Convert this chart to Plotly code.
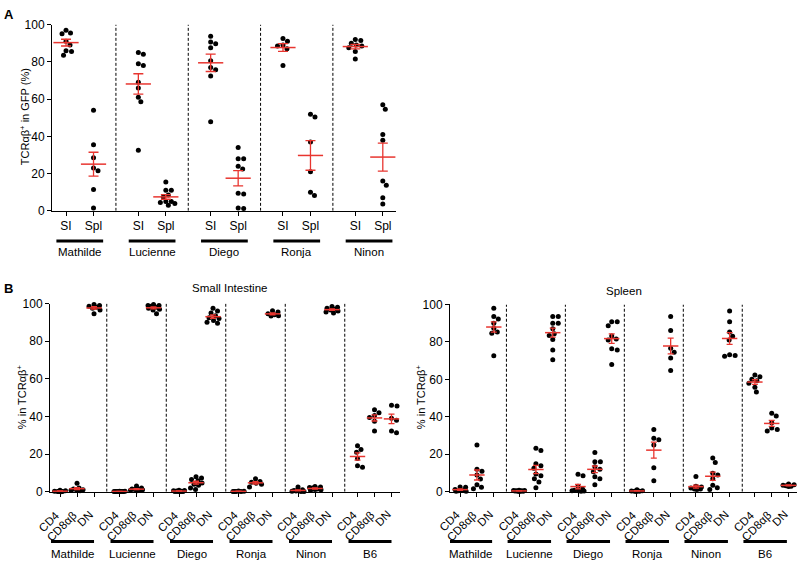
import math
import numpy as np
import plotly.graph_objects as go

# ---------------- data ----------------
mice = ["Mathilde", "Lucienne", "Diego", "Ronja", "Ninon"]
mice_b = ["Mathilde", "Lucienne", "Diego", "Ronja", "Ninon", "B6"]
a_ticks = ["SI", "Spl"]
b_ticks = ["CD4", "CD8αβ", "DN"]

# Panel A: TCRab+ in GFP (%)
A_SI = [
    [95.5, 95, 97, 91, 89, 86, 83.5, 85.5],
    [84, 85, 79, 78, 69, 66, 61, 58.5, 32.5],
    [93.7, 90.7, 89.7, 87.6, 80.6, 77, 75.7, 72.4, 47.8],
    [92.5, 91, 89, 88.5, 87, 78],
    [92, 91.5, 90, 89, 88.5, 87.5, 85.5, 81.5],
]
A_SPL = [
    [54, 35.5, 28.5, 23, 21.5, 11.5, 1.5],
    [15.5, 11, 11, 8.5, 7.5, 5, 4.5, 4, 3, 5],
    [34, 28, 28, 24, 22.5, 9.5, 9, 1.5, 1.2],
    [51.8, 50.4, 37, 21, 10, 8.2],
    [57, 54.5, 41, 37.9, 16, 13.8, 7, 3.7],
]

# Panel B, small intestine: % in TCRab+
SI_CD4 = [
    [0, 0.2, 0.5, 0.8, 0.1, 0.3, 0.2],
    [0.1, 0.2, 0.3, 0.1, 0.2, 0.1, 0.3, 0.2, 0.1],
    [0.5, 0.8, 0.2, 0.1, 0.3, 0.2, 0.6, 0.4, 0.1],
    [0.1, 0.3, 0.2, 0.2, 0.1, 0.4],
    [0.5, 1, 2.5, 0.3, 0.1, 0.6, 0.4, 0.2],
    [24.5, 22.5, 21, 17.6, 13.8, 13],
]
SI_CD8 = [
    [4.5, 2, 1.5, 1, 1, 0.5, 0.8],
    [3, 2, 1.5, 1.2, 1, 0.8, 1.5, 1, 0.5],
    [8, 7.3, 6.5, 5.9, 4.7, 4, 3.5, 2, 1.2],
    [6.9, 5.5, 5, 4.5, 4, 2.5],
    [2.8, 2.5, 2, 1.5, 1.2, 1, 0.6, 2.3],
    [43.5, 42, 40.5, 39.5, 37.5, 32.3],
]
SI_DN = [
    [99.5, 99, 98.5, 98, 97.5, 96.5, 94.5],
    [99.5, 99, 99, 98.5, 98, 97.5, 97, 96.5, 94.5],
    [97.5, 96, 95, 93.5, 92.5, 92, 91, 90, 89.5],
    [96.2, 95.5, 94.5, 94, 93.5, 93.3],
    [98.4, 98, 97.5, 97, 96.5, 96, 95.5, 95],
    [46, 45.5, 39, 38, 32.3, 31.4],
]

# Panel B, spleen: % in TCRab+
SP_CD4 = [
    [2.4, 2.5, 1.2, 0.5, 0.3, 0.2, 0.8],
    [0.5, 0.8, 0.6, 0.3, 0.2, 0.5, 0.4, 0.3, 0.2, 0.6],
    [9.4, 8.5, 2.9, 1.5, 0.8, 0.5, 0.3, 0.5, 0.4],
    [0.5, 1, 0.3, 0.2, 0.4, 0.1],
    [8.1, 3, 2.5, 2, 1.5, 1.2, 1.5, 2],
    [62.4, 61.4, 60.1, 59.3, 57.9, 55.8, 53.2],
]
SP_CD8 = [
    [25, 12, 11, 9, 6.8, 3.8, 2.4, 1.6],
    [23.2, 22, 15, 13.9, 12.5, 9.5, 8.5, 6.9, 5.2, 2.1],
    [21, 16, 16, 13.3, 12, 10.7, 8, 6.9, 3.8],
    [33.3, 28.6, 27.7, 25, 12.8, 5.9],
    [18, 15.6, 9.9, 9, 6.9, 3.5, 2.1, 1.2],
    [41.9, 40.5, 36.8, 34, 33.3, 32.4],
]
SP_DN = [
    [98, 93.6, 92.2, 90, 87.3, 85.3, 84.7, 72.6],
    [93.6, 93.6, 90, 90, 87, 84.4, 83.5, 81.3, 75.7, 70.5],
    [90.8, 90.8, 88.7, 83.2, 81.5, 81, 76.3, 75.7, 68],
    [93.6, 86.1, 76.6, 74.5, 71.4, 64.8],
    [96.5, 90.8, 85.3, 83, 81, 73.1, 72.8, 72.3],
    [4.1, 3.5, 3, 2.8, 3.2, 3.8],
]

# ---------------- styling ----------------
W, H = 800, 568
FONT = "Liberation Sans, Arial, Helvetica, sans-serif"
RED = "#e8352f"
A_GAP, B_GAP = 2.63, 3.5


def px_x(p):
    return p / W


def px_y(p):
    return 1 - p / H


def swarm(vals, ppx, ppy, maxw, d=5.2):
    """capped beeswarm offsets (data units); overlap allowed when crowded"""
    order = sorted(range(len(vals)), key=lambda i: -vals[i])
    grid = [k * 0.5 for k in range(-int(maxw * 2), int(maxw * 2) + 1)]
    placed = []
    offs = [0.0] * len(vals)
    for i in order:
        y = vals[i] * ppy
        scores = []
        for c in grid:
            md = min([math.hypot(c - xp, y - yp) for xp, yp in placed] or [1e9])
            scores.append((c, md))
        ok = [c for c, md in scores if md >= d]
        if ok:
            best = min(ok, key=lambda c: (abs(c), -c))
        else:
            best = max(scores, key=lambda t: (t[1], -abs(t[0])))[0]
        placed.append((best, y))
        offs[i] = best / ppx
    return offs


fig = go.Figure()


def add_panel(xa, ya, series, ppx, ppy, maxw, msize, capw):
    dx, dy, mx, my, se = [], [], [], [], []
    for pos, vals in series:
        offs = swarm(vals, ppx, ppy, maxw)
        dx += [pos + o for o in offs]
        dy += list(vals)
        arr = np.array(vals, dtype=float)
        mx.append(pos)
        my.append(arr.mean())
        se.append(arr.std(ddof=1) / math.sqrt(len(arr)))
    fig.add_trace(go.Scatter(x=dx, y=dy, mode="markers", xaxis=xa, yaxis=ya,
                             marker=dict(color="black", size=5, line=dict(width=0)),
                             cliponaxis=False, hoverinfo="skip", showlegend=False))
    fig.add_trace(go.Scatter(x=mx, y=my, mode="markers", xaxis=xa, yaxis=ya,
                             marker=dict(symbol="line-ew", size=msize,
                                         line=dict(color=RED, width=1.5)),
                             error_y=dict(type="data", array=se, visible=True,
                                          color=RED, thickness=1.3, width=capw),
                             cliponaxis=False, hoverinfo="skip", showlegend=False))


# Panel A
a_series, a_tickvals, a_ticktext = [], [], []
for g in range(len(mice)):
    base = g * A_GAP
    a_series.append((base, A_SI[g]))
    a_series.append((base + 1, A_SPL[g]))
    a_tickvals += [base, base + 1]
    a_ticktext += a_ticks
add_panel("x", "y", a_series, 27.5, 1.91, 9, 18, 5)

# Panel B
b_tickvals, b_ticktext = [], []
si_series, sp_series = [], []
for g in range(len(mice_b)):
    base = g * B_GAP
    for k, (s, p) in enumerate(zip([SI_CD4, SI_CD8, SI_DN], [SP_CD4, SP_CD8, SP_DN])):
        si_series.append((base + k, s[g]))
        sp_series.append((base + k, p[g]))
        b_tickvals.append(base + k)
        b_ticktext.append(b_ticks[k])
add_panel("x2", "y2", si_series, 17.0, 1.93, 6, 11, 3)
add_panel("x3", "y3", sp_series, 16.8, 1.93, 6, 11, 3)

# separators, bars, group labels
shapes, annots = [], []
dash = dict(color="black", width=1, dash="3px,2px")
for g in range(len(mice) - 1):
    xs = g * A_GAP + 1 + (A_GAP - 1) / 2
    shapes.append(dict(type="line", xref="x", yref="y", x0=xs, x1=xs, y0=0, y1=100, line=dash))
for g in range(len(mice)):
    base = g * A_GAP
    shapes.append(dict(type="line", xref="x", yref="paper", x0=base - 0.35, x1=base + 1.35,
                       y0=px_y(240), y1=px_y(240), line=dict(color="black", width=3)))
    annots.append(dict(xref="x", yref="paper", x=base + 0.5, y=px_y(251), text=mice[g],
                       showarrow=False, yanchor="middle", font=dict(size=11.5)))

for xa, ya, lo, hi in [("x2", "y2", -0.53, 2.0), ("x3", "y3", -0.68, 1.9)]:
    for g in range(len(mice_b) - 1):
        xs = g * B_GAP + 2 + (B_GAP - 2) / 2
        shapes.append(dict(type="line", xref=xa, yref=ya, x0=xs, x1=xs, y0=0, y1=100, line=dash))
    for g in range(len(mice_b)):
        base = g * B_GAP
        shapes.append(dict(type="line", xref=xa, yref="paper", x0=base + lo, x1=base + hi,
                           y0=px_y(548), y1=px_y(548), line=dict(color="black", width=3)))
        annots.append(dict(xref=xa, yref="paper", x=base + (lo + hi) / 2, y=px_y(561),
                           text=mice_b[g], showarrow=False, yanchor="middle",
                           font=dict(size=11.5)))
    # angled category labels, ending at their tick
    for tv, tt in zip(b_tickvals, b_ticktext):
        annots.append(dict(xref=xa, yref="paper", x=tv, xshift=5, y=px_y(511), text=tt,
                           textangle=-45, showarrow=False, xanchor="right", yanchor="top",
                           font=dict(size=11.5)))

# titles and panel letters
annots += [
    dict(xref="paper", yref="paper", x=px_x(2), y=px_y(8), text="<b>A</b>", showarrow=False,
         xanchor="left", yanchor="middle", font=dict(size=13)),
    dict(xref="paper", yref="paper", x=px_x(2), y=px_y(289), text="<b>B</b>", showarrow=False,
         xanchor="left", yanchor="middle", font=dict(size=13)),
    dict(xref="paper", yref="paper", x=px_x(25), y=px_y(113), text="TCRαβ<sup>+</sup> in GFP (%)",
         showarrow=False, textangle=-90, xanchor="center", yanchor="middle", font=dict(size=11)),
    dict(xref="paper", yref="paper", x=px_x(22), y=px_y(400), text="% in TCRαβ<sup>+</sup>",
         showarrow=False, textangle=-90, xanchor="center", yanchor="middle", font=dict(size=11)),
    dict(xref="paper", yref="paper", x=px_x(421), y=px_y(400), text="% in TCRαβ<sup>+</sup>",
         showarrow=False, textangle=-90, xanchor="center", yanchor="middle", font=dict(size=11)),
    dict(xref="paper", yref="paper", x=px_x(229), y=px_y(288), text="Small Intestine",
         showarrow=False, xanchor="center", yanchor="middle", font=dict(size=11.5)),
    dict(xref="paper", yref="paper", x=px_x(624), y=px_y(291), text="Spleen",
         showarrow=False, xanchor="center", yanchor="middle", font=dict(size=11.5)),
]

common_x = dict(showline=True, linecolor="black", linewidth=1, ticks="outside", ticklen=4,
                tickcolor="black", tickwidth=1, showgrid=False, zeroline=False, tickmode="array",
                tickfont=dict(size=12))
common_y = dict(showline=True, linecolor="black", linewidth=1, ticks="outside", ticklen=4,
                tickcolor="black", tickwidth=1, showgrid=False, zeroline=False, range=[0, 100],
                tickvals=[0, 20, 40, 60, 80, 100], tickfont=dict(size=12))

fig.update_layout(
    width=W, height=H, margin=dict(l=0, r=0, t=0, b=0),
    paper_bgcolor="white", plot_bgcolor="white",
    font=dict(family=FONT, size=11, color="black"),
    showlegend=False,
    xaxis=dict(common_x, domain=[px_x(52), px_x(396)], range=[-0.51, 12.0],
               tickvals=a_tickvals, ticktext=a_ticktext, anchor="y"),
    yaxis=dict(common_y, domain=[px_y(209), px_y(18)], anchor="x"),
    xaxis2=dict(common_x, domain=[px_x(50), px_x(400)], range=[-0.59, 20.0],
                tickvals=b_tickvals, showticklabels=False, anchor="y2"),
    yaxis2=dict(common_y, domain=[px_y(497), px_y(304)], anchor="x2"),
    xaxis3=dict(common_x, domain=[px_x(450), px_x(797)], range=[-0.6, 20.0],
                tickvals=b_tickvals, showticklabels=False, anchor="y3"),
    yaxis3=dict(common_y, domain=[px_y(497), px_y(305)], anchor="x3"),
    shapes=shapes, annotations=annots,
)

fig.write_html("out.html", config={"displayModeBar": False},
               post_script="document.body.style.margin='0';document.body.style.overflow='hidden';")
